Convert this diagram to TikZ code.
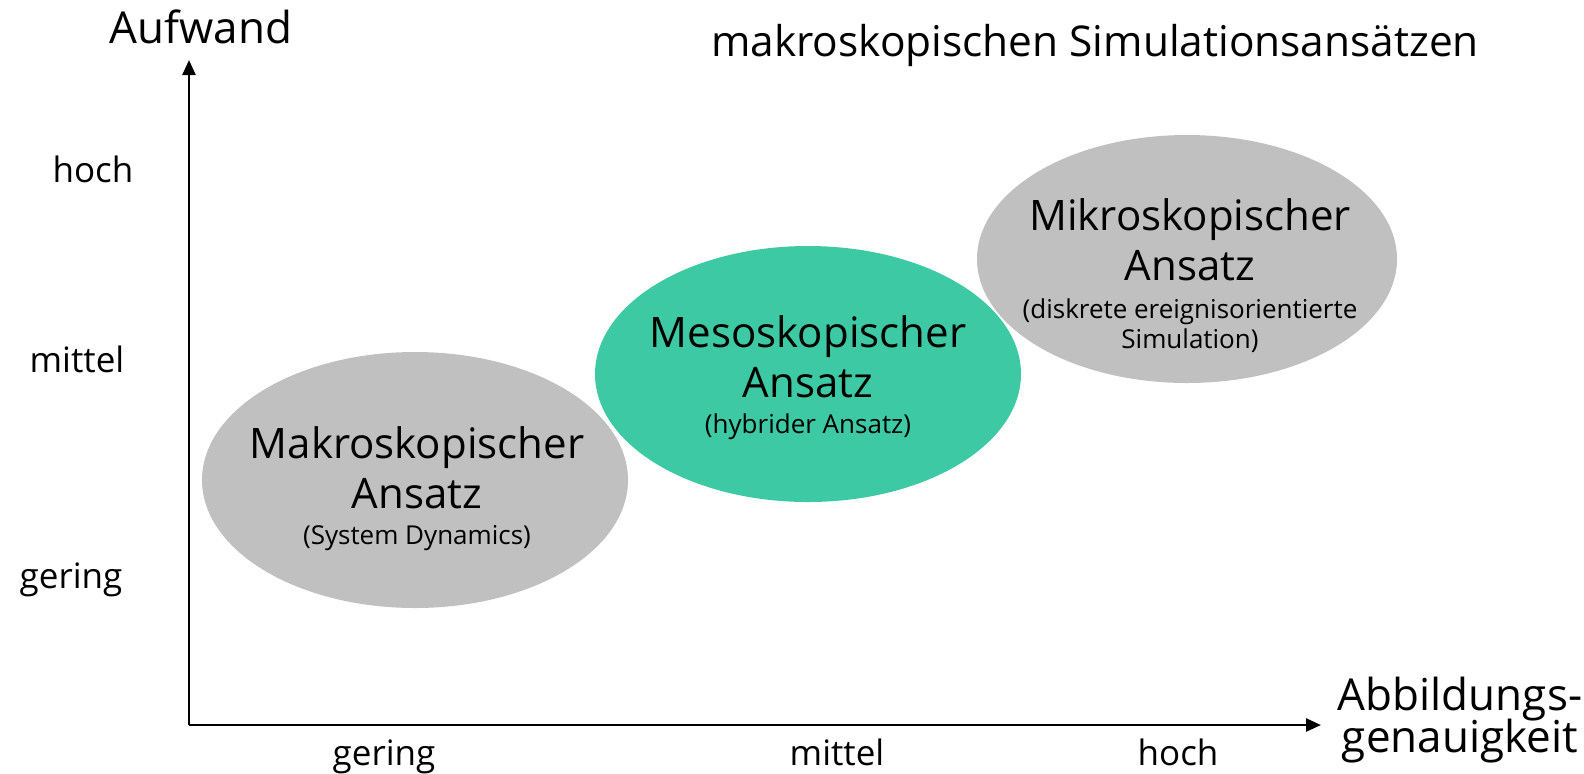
\documentclass[tikz,border=0pt]{standalone}
\usepackage{fontspec}
\setmainfont{Open Sans}
\usetikzlibrary{arrows.meta, shapes.geometric}
\definecolor{ansatzgrau}{HTML}{C0C0C0}
\definecolor{ansatzgruen}{HTML}{3CC9A3}
\newcommand{\klein}{\fontsize{13}{15}\selectfont}

\tikzset{
  ansatz/.style={ellipse, inner sep=0pt, minimum width=213pt, minimum height=128pt},
  ansatztext/.style={anchor=base, align=center, font=\fontsize{21}{25}\selectfont},
  achse/.style={line width=1.25pt, -{Triangle[length=7.5pt, width=6.5pt]}},
  stufe/.style={anchor=base, font=\fontsize{17.5}{21}\selectfont},
  titel/.style={anchor=base, font=\fontsize{22}{22}\selectfont, align=center}
}

\begin{document}
\begin{tikzpicture}[x=0.5pt, y=-0.5pt]
  \useasboundingbox (0,0) rectangle (1584,773);
  % Achsen
  \coordinate (o) at (189,725);
  \coordinate (ytip) at (189,60);
  \coordinate (xtip) at (1321,725);
  \draw[achse] (o) -- (ytip);
  \draw[achse] (o) -- (xtip);
  \node[titel] (aufwand) at (201,43) {Aufwand};
  \node[titel] (genau) at (1460,752) {Abbildungs-\\[-1pt]genauigkeit};
  \node[titel, anchor=base west, font=\fontsize{21.2}{22}\selectfont] (ueberschrift) at (704,56)
    {makroskopischen Simulationsansätzen};
  % Stufen
  \node[stufe] (yhoch) at (93,182) {hoch};
  \node[stufe] (ymittel) at (77,372) {mittel};
  \node[stufe] (ygering) at (71,588) {gering};
  \node[stufe] (xgering) at (384,765) {gering};
  \node[stufe] (xmittel) at (837,765) {mittel};
  \node[stufe] (xhoch) at (1178,765) {hoch};
  % Ansaetze
  \node[ansatz, fill=ansatzgrau] (makro) at (415,480) {};
  \node[ansatz, fill=ansatzgruen] (meso) at (808,374) {};
  \node[ansatz, fill=ansatzgrau, minimum width=210pt, minimum height=124pt] (mikro) at (1187,259) {};
  \node[ansatztext] (makrotext) at (417,544)
    {Makroskopischer\\Ansatz\\[-7pt]{\klein (System Dynamics)}};
  \node[ansatztext] (mesotext) at (808,433)
    {Mesoskopischer\\Ansatz\\[-7pt]{\klein (hybrider Ansatz)}};
  \node[ansatztext] (mikrotext) at (1190,348)
    {Mikroskopischer\\Ansatz\\[-6pt]{\klein (diskrete ereignisorientierte}\\[-10pt]{\klein Simulation)}};
\end{tikzpicture}
\end{document}
